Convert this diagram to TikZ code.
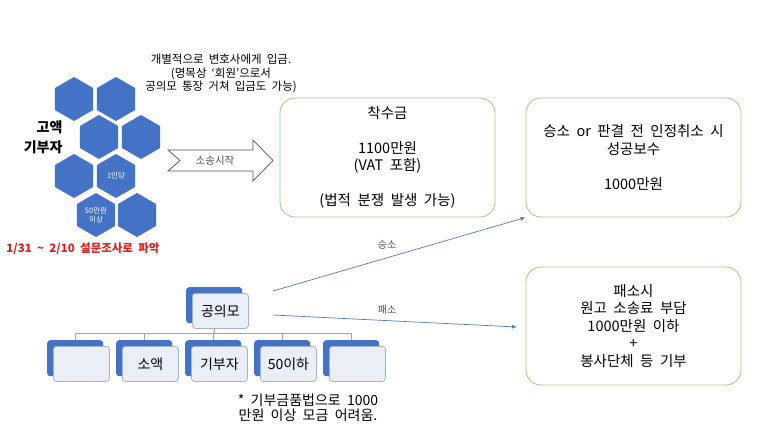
\documentclass[tikz,border=0pt]{standalone}
\usepackage{fontspec}
\setmainfont{Noto Sans CJK KR}[WordSpace=2]
\usetikzlibrary{shapes.geometric,arrows.meta}
\definecolor{hexblue}{RGB}{68,114,196}
\definecolor{boxgreen}{RGB}{170,200,140}
\definecolor{frontfill}{RGB}{234,238,246}
\definecolor{frontline}{RGB}{160,178,210}
\definecolor{orgline}{RGB}{143,164,200}
\definecolor{arrowblue}{RGB}{80,120,190}
\definecolor{redtxt}{RGB}{220,30,30}
\definecolor{labelgray}{RGB}{80,80,80}
\tikzset{
  hexa/.style={regular polygon, regular polygon sides=6, shape border rotate=30,
    minimum size=44pt, inner sep=0pt, outer sep=0pt, fill=hexblue, text=white,
    font=\fontsize{7.5}{9}\selectfont, align=center},
  bigbox/.style={draw=boxgreen, line width=0.9pt, rounded corners=15pt,
    minimum width=215pt, align=center, inner sep=0pt,
    font=\fontsize{14.5}{17.5}\selectfont},
  orgback/.style={fill=hexblue, rounded corners=3pt, minimum width=56pt,
    minimum height=36pt, inner sep=0pt, anchor=north west},
  orgfront/.style={fill=frontfill, draw=frontline, line width=0.8pt,
    rounded corners=3pt, minimum width=56pt, minimum height=35pt, inner sep=0pt,
    anchor=north west, font=\fontsize{14}{16}\selectfont},
  orgconn/.style={draw=orgline, line width=0.8pt},
  linkarrow/.style={draw=arrowblue, line width=0.7pt, -{Latex[length=5pt,width=4pt]}},
  linklabel/.style={text=labelgray, font=\fontsize{10}{12}\selectfont},
}
\begin{document}
\begin{tikzpicture}[x=1pt,y=-1pt]
\fill[white] (0,0) rectangle (773,434);
\useasboundingbox (0,0) rectangle (773,434);

% hexagons
\node[hexa] (h1) at (74,99) {};
\node[hexa] (h2) at (116,99) {};
\node[hexa] (h3) at (99,137) {};
\node[hexa] (h4) at (141,137) {};
\node[hexa] (h5) at (74,176) {};
\node[hexa] (h6) at (116,176) {1인당};
\node[hexa] (h7) at (96,215) {50만원\\이상};
\node[hexa] (h8) at (137,215) {};

\node[anchor=east, align=right, font=\fontsize{14}{20}\bfseries\selectfont] (donor) at (66,137) {고액\\기부자};
\node[text=redtxt, font=\fontsize{11.5}{14}\bfseries\selectfont] (survey) at (83,249) {1/31 \textasciitilde{} 2/10 설문조사로 파악};

\node[align=center, font=\fontsize{11.5}{13.5}\selectfont] (note) at (221,73.5) {개별적으로 변호사에게 입금.\\(명목상 ‘회원’으로서\\공의모 통장 거쳐 입금도 가능)};

% block arrow
\draw[draw=labelgray, fill=white, line width=0.7pt, line join=miter]
  (168,150) -- (253,150) -- (253,140) -- (273,160.5) -- (253,181) -- (253,171)
  -- (168,171) -- (180,160.5) -- cycle;
\node[font=\fontsize{10.5}{12}\selectfont, text=labelgray] (start) at (215,160.5) {소송시작};

% boxes
\node[bigbox, minimum height=119pt] (b1) at (387.5,157.5)
  {착수금\\[17.5pt]1100만원\\(VAT 포함)\\[17.5pt](법적 분쟁 발생 가능)};
\node[bigbox, minimum height=119pt] (b2) at (633.5,157.5)
  {승소 or 판결 전 인정취소 시\\성공보수\\[17.5pt]1000만원};
\node[bigbox, minimum height=118pt] (b3) at (633.5,326)
  {패소시\\원고 소송료 부담\\1000만원 이하\\+\\봉사단체 등 기부};

% org chart
\node[orgback] (pb) at (186,287) {};
\node[orgfront] (p) at (192,293) {공의모};
\foreach \k/\t in {1/{},2/소액,3/기부자,4/50이하,5/{}} {
  \node[orgback] (c\k b) at ({47+69*(\k-1)},340) {};
  \node[orgfront] (c\k) at ({53+69*(\k-1)},346) {\t};
}
\coordinate (bus) at (0,333);
\draw[orgconn] (pb.center |- p.south) -- (pb.center |- bus);
\draw[orgconn] (c1b.north |- bus) -- (c5b.north |- bus);
\foreach \k in {1,...,5} {
  \draw[orgconn] (c\k b.north |- bus) -- (c\k b.north);
}

\node[align=center, font=\fontsize{14}{14.5}\selectfont] (law) at (308,408)
  {* 기부금품법으로 1000\\만원 이상 모금 어려움.};

% outcome arrows
\coordinate (s1) at (273,291);
\coordinate (s2) at (273,315);
\coordinate (t2) at (517,327);
\draw[linkarrow] (s1) -- (b2.south west);
\draw[linkarrow] (s2) -- (t2);
\node[linklabel] (win) at (387,245) {승소};
\node[linklabel] (lose) at (387,310) {패소};
\end{tikzpicture}
\end{document}
